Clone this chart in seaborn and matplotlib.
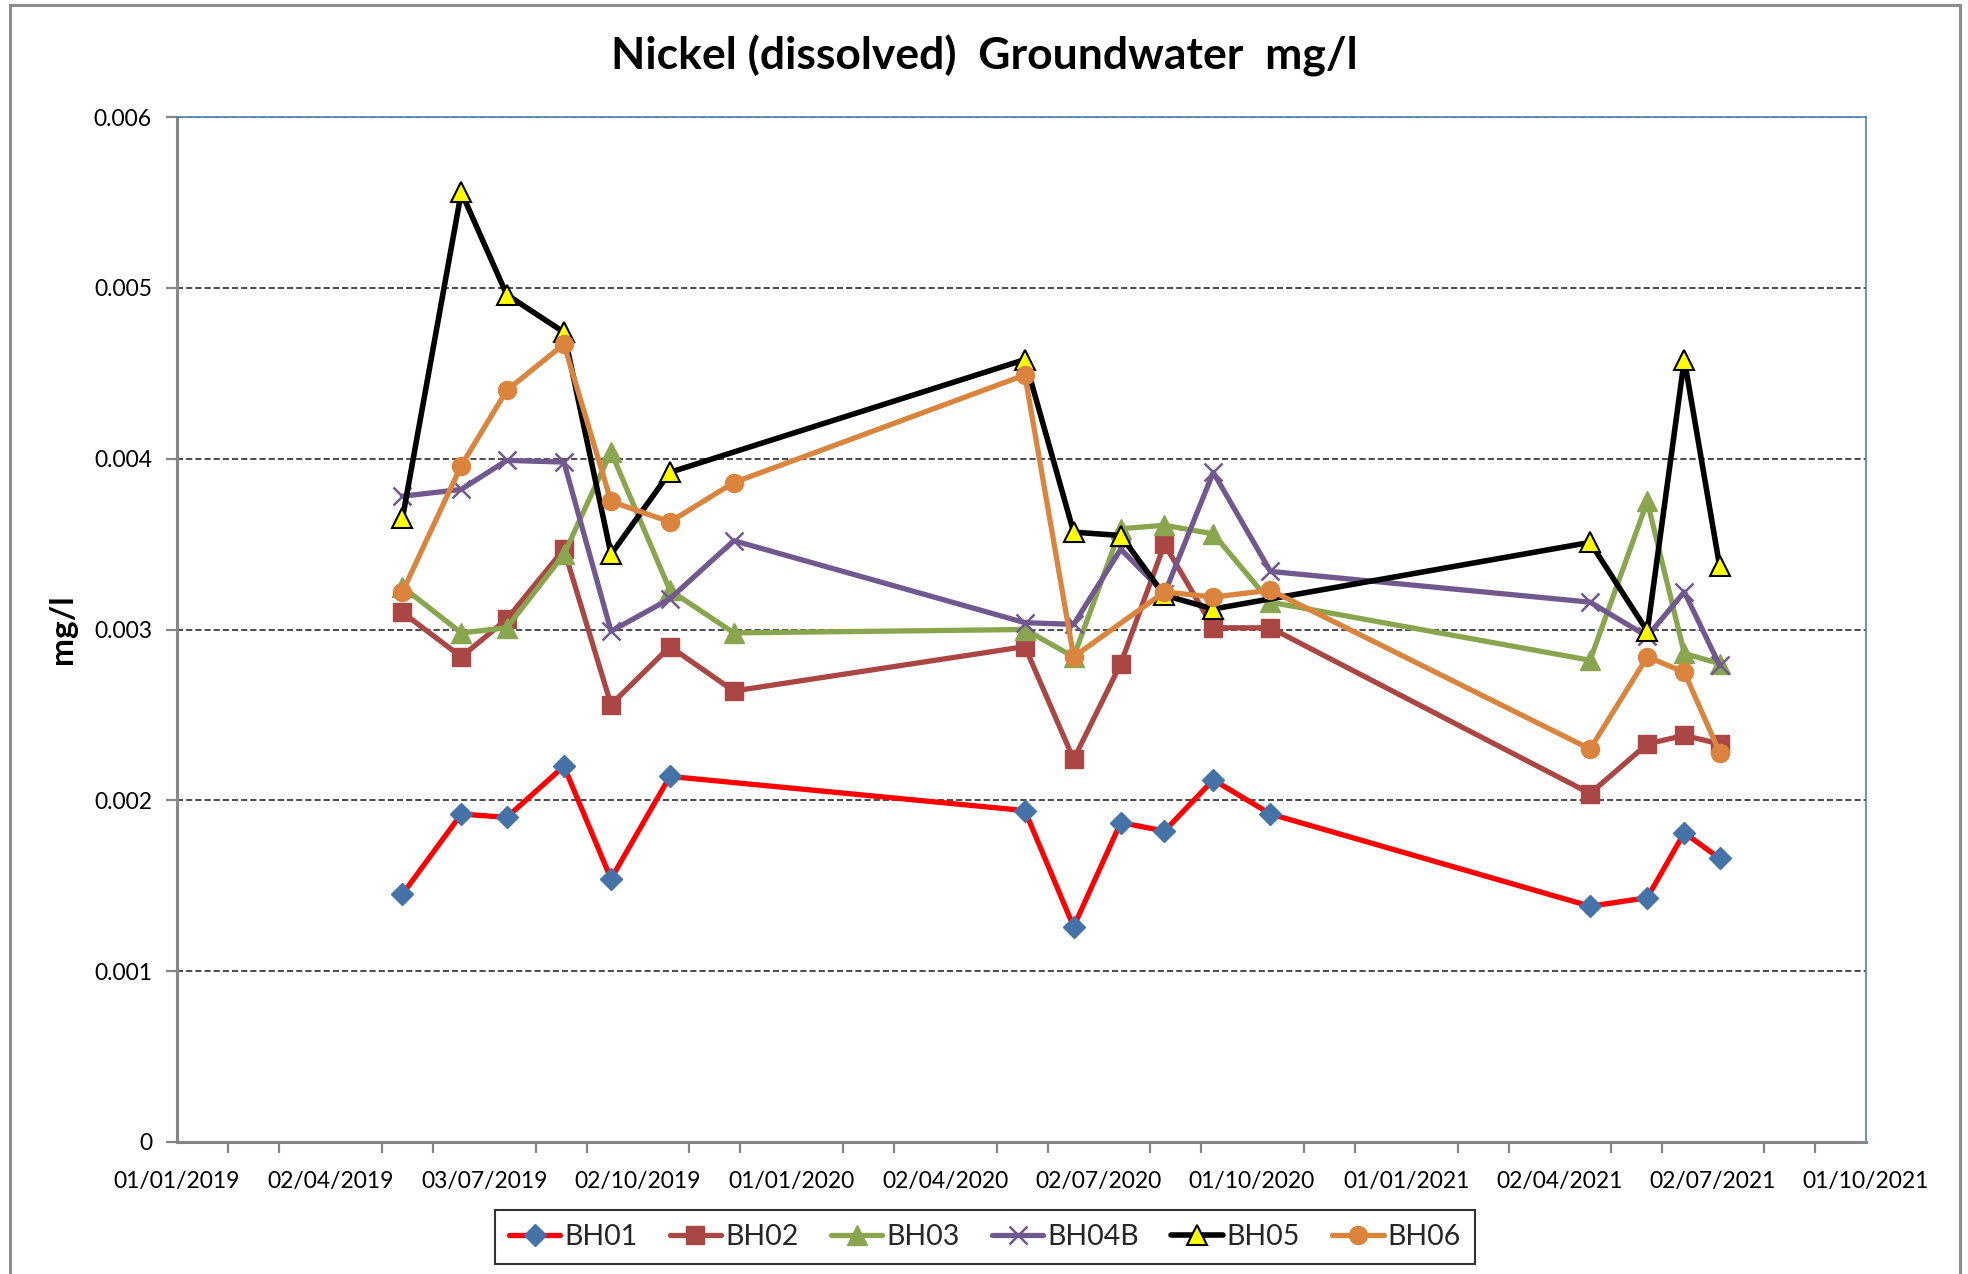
import matplotlib
matplotlib.use("Agg")
import matplotlib.pyplot as plt
import matplotlib.dates as mdates
from matplotlib.patches import Rectangle
from matplotlib.lines import Line2D
import numpy as np
import pandas as pd
import seaborn as sns

# Sampling dates and dissolved nickel results (mg/l) per borehole
dates = ["2019-05-15", "2019-06-19", "2019-07-16", "2019-08-19", "2019-09-16",
         "2019-10-21", "2019-11-28", "2020-05-19", "2020-06-17", "2020-07-15",
         "2020-08-10", "2020-09-08", "2020-10-12", "2021-04-20", "2021-05-24",
         "2021-06-15", "2021-07-06"]

bh01 = [0.00145, 0.00192, 0.00190, 0.00220, 0.00154, 0.00214, None, 0.00194,
        0.00126, 0.00187, 0.00182, 0.00212, 0.00192, 0.00138, 0.00143, 0.00181,
        0.00166]
bh02 = [0.00310, 0.00284, 0.00306, 0.00347, 0.00256, 0.00290, 0.00264, 0.00290,
        0.00224, 0.00280, 0.00350, 0.00301, 0.00301, 0.00204, 0.00233, 0.00238,
        0.00233]
bh03 = [0.00325, 0.00298, 0.00301, 0.00344, 0.00404, 0.00323, 0.00298, 0.00300,
        0.00284, 0.00359, 0.00361, 0.00356, 0.00316, 0.00282, 0.00375, 0.00286,
        0.00280]
bh04b = [0.00378, 0.00382, 0.00399, 0.00398, 0.00299, 0.00318, 0.00352, 0.00304,
         0.00303, 0.00347, 0.00321, 0.00392, 0.00334, 0.00316, 0.00296, 0.00322,
         0.00279]
bh05 = [0.00365, 0.00556, 0.00496, 0.00474, 0.00344, 0.00392, None, 0.00458,
        0.00357, 0.00355, 0.00320, 0.00312, None, 0.00351, 0.00299, 0.00458,
        0.00337]
bh06 = [0.00322, 0.00396, 0.00440, 0.00467, 0.00375, 0.00363, 0.00386, 0.00449,
        0.00284, None, 0.00322, 0.00319, 0.00323, 0.00230, 0.00284, 0.00275,
        0.00228]

series_names = ["BH01", "BH02", "BH03", "BH04B", "BH05", "BH06"]
series_values = [bh01, bh02, bh03, bh04b, bh05, bh06]

tick_dates = ["2019-01-01", "2019-04-02", "2019-07-03", "2019-10-02", "2020-01-01",
              "2020-04-02", "2020-07-02", "2020-10-01", "2021-01-01", "2021-04-02",
              "2021-07-02", "2021-10-01"]
y_ticks = [0, 0.001, 0.002, 0.003, 0.004, 0.005, 0.006]
y_tick_labels = ["0", "0.001", "0.002", "0.003", "0.004", "0.005", "0.006"]

# Long-form table, skipping dates where a borehole was not sampled
frames = []
for name, vals in zip(series_names, series_values):
    frames.append(pd.DataFrame({"date": pd.to_datetime(dates), "value": vals, "well": name}))
df = pd.concat(frames, ignore_index=True).dropna(subset=["value"])

styles = {
    "BH01": dict(color="#FF0000", marker="D", ms=11, mfc="#4572A7", mec="#4572A7", lw=3.8),
    "BH02": dict(color="#AA4643", marker="s", ms=12.5, mfc="#AA4643", mec="#AA4643", lw=3.8),
    "BH03": dict(color="#89A54E", marker="^", ms=14, mfc="#89A54E", mec="#89A54E", lw=3.8),
    "BH04B": dict(color="#71588F", marker="x", ms=12.5, mfc="#71588F", mec="#71588F", lw=3.8, mew=1.8),
    "BH05": dict(color="#000000", marker="^", ms=15, mfc="#FFFF00", mec="#000000", lw=4.0, mew=1.5),
    "BH06": dict(color="#DB843D", marker="o", ms=13, mfc="#DB843D", mec="#DB843D", lw=3.8),
}

sns.set_theme(style="white")
plt.rcParams["font.family"] = ["Lato", "DejaVu Sans"]

fig = plt.figure(figsize=(19.68, 12.74), dpi=100)
ax = fig.add_axes([177 / 1968, 1 - 1142 / 1274, (1866 - 177) / 1968, (1142 - 117) / 1274])

# Light chart-area frame
fig.patches.append(Rectangle((10 / 1968, -0.05), (1960 - 10) / 1968, 1.05 - 5 / 1274,
                             transform=fig.transFigure, fill=False,
                             edgecolor="#8C8C8C", linewidth=2.2, zorder=0))

handles = []
for name in series_names:
    st = styles[name]
    sub = df[df["well"] == name]
    sns.lineplot(data=sub, x="date", y="value", ax=ax, color=st["color"],
                 linewidth=st["lw"], marker=st["marker"], markersize=st["ms"],
                 markerfacecolor=st["mfc"], markeredgecolor=st["mec"],
                 markeredgewidth=st.get("mew", 1.0), estimator=None, sort=True,
                 legend=False, zorder=3)
    handles.append(Line2D([0], [0], color=st["color"], linewidth=st["lw"],
                          marker=st["marker"], markersize=st["ms"],
                          markerfacecolor=st["mfc"], markeredgecolor=st["mec"],
                          markeredgewidth=st.get("mew", 1.0), label=name))

ax.set_xlim(pd.Timestamp("2019-01-01"), pd.Timestamp("2021-10-01"))
ax.set_ylim(0, 0.006)

major = pd.to_datetime(tick_dates)
ax.set_xticks(major)
ax.xaxis.set_major_formatter(mdates.DateFormatter("%d/%m/%Y"))
minor = []
for a, b in zip(major[:-1], major[1:]):
    step = (b - a) / 3
    minor += [a + step, a + 2 * step]
ax.set_xticks(minor, minor=True)

ax.set_yticks(y_ticks)
ax.set_yticklabels(y_tick_labels)

ax.yaxis.grid(True, linestyle=(0, (4, 2)), color="#1A1A1A", linewidth=1.1, zorder=1)
ax.xaxis.grid(False)
ax.set_axisbelow(True)

for side in ["left", "bottom"]:
    ax.spines[side].set_color("#868686")
    ax.spines[side].set_linewidth(2.2)
for side in ["top", "right"]:
    ax.spines[side].set_color("#4F81BD")
    ax.spines[side].set_linewidth(1.2)

ax.tick_params(axis="x", which="major", direction="inout", length=14, width=1.6,
               color="#868686", labelsize=16.5, pad=14)
ax.tick_params(axis="x", which="minor", direction="out", length=8, width=1.6,
               color="#868686", bottom=True)
ax.tick_params(axis="y", which="major", direction="out", length=8, width=1.6,
               color="#868686", labelsize=16.5, pad=10, left=True)
for lbl in ax.get_xticklabels() + ax.get_yticklabels():
    lbl.set_color("#000000")

ax.set_xlabel("")
ax.set_ylabel("mg/l", fontsize=24, fontweight="bold", labelpad=12, color="#000000")

fig.text(0.5, 1 - 56 / 1274, "Nickel (dissolved)  Groundwater  mg/l", ha="center",
         va="center", fontsize=32, fontweight="bold", color="#000000")

leg = fig.legend(handles=handles, loc="center", bbox_to_anchor=(985 / 1968, 1 - 1237 / 1274),
                 ncol=6, frameon=True, fontsize=20.5, handlelength=1.8, handletextpad=0.15,
                 columnspacing=1.13, borderpad=0.5, fancybox=False)
leg.get_frame().set_edgecolor("#000000")
leg.get_frame().set_linewidth(1.5)

fig.savefig("out.png", dpi=100, facecolor="white")
